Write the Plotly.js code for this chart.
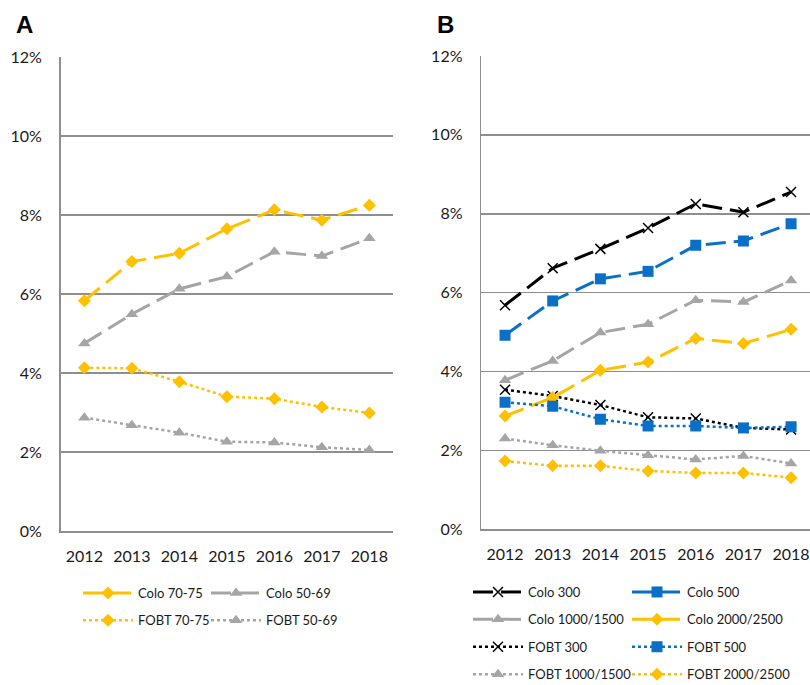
<!DOCTYPE html>
<html>
<head>
<meta charset="utf-8">
<script src="https://cdn.plot.ly/plotly-3.0.1.min.js"></script>
<style>html,body{margin:0;padding:0;background:#fff;}#chart{width:810px;height:685px;}</style>
</head>
<body>
<div id="chart"></div>
<script>
// ---- data ----
const years = ['2012','2013','2014','2015','2016','2017','2018'];

// Panel A
const coloA_70_75 = [5.83, 6.82, 7.03, 7.65, 8.13, 7.87, 8.25];
const coloA_50_69 = [4.75, 5.49, 6.13, 6.44, 7.07, 6.96, 7.41];
const fobtA_70_75 = [4.13, 4.12, 3.78, 3.40, 3.35, 3.14, 2.99];
const fobtA_50_69 = [2.87, 2.68, 2.49, 2.26, 2.24, 2.12, 2.05];

// Panel B
const coloB_300 = [5.68, 6.62, 7.11, 7.64, 8.25, 8.04, 8.55];
const coloB_500 = [4.92, 5.79, 6.35, 6.54, 7.20, 7.31, 7.75];
const coloB_1000 = [3.78, 4.27, 4.99, 5.20, 5.81, 5.76, 6.31];
const coloB_2000 = [2.87, 3.34, 4.03, 4.24, 4.84, 4.71, 5.07];
const fobtB_300 = [3.54, 3.38, 3.15, 2.84, 2.81, 2.57, 2.53];
const fobtB_500 = [3.22, 3.12, 2.79, 2.62, 2.62, 2.57, 2.60];
const fobtB_1000 = [2.30, 2.13, 1.99, 1.88, 1.77, 1.86, 1.67];
const fobtB_2000 = [1.73, 1.61, 1.61, 1.48, 1.43, 1.43, 1.31];

const yTickVals = [0, 2, 4, 6, 8, 10, 12];

// ---- styles ----
const ORANGE = '#FFC000', GRAY = '#A5A5A5', BLACK = '#000000', BLUE = '#0A6FC7';
const DASH = '20px,8px', DOT = '3px,3px';
const W = 810, H = 685;

function tr(name, y, color, dash, symbol, xa, ya, legend, size, lw) {
  const isX = symbol.indexOf('x') === 0;
  return {
    type: 'scatter', mode: 'lines+markers', name: name, x: years, y: y,
    xaxis: xa, yaxis: ya, legend: legend, legendgroup: name,
    line: {color: color, width: lw, dash: dash},
    marker: isX ? {symbol: symbol, size: size, color: color, line: {color: color, width: 1.5}}
                : {symbol: symbol, size: size, color: color, line: {width: 0}}
  };
}

const traces = [
  tr('Colo 70-75', coloA_70_75, ORANGE, DASH, 'diamond', 'x', 'y', 'legend', 10, 3),
  tr('FOBT 70-75', fobtA_70_75, ORANGE, DOT, 'diamond', 'x', 'y', 'legend', 10, 2.5),
  tr('Colo 50-69', coloA_50_69, GRAY, DASH, 'triangle-up', 'x', 'y', 'legend2', 11, 3),
  tr('FOBT 50-69', fobtA_50_69, GRAY, DOT, 'triangle-up', 'x', 'y', 'legend2', 11, 2.5),

  tr('Colo 300', coloB_300, BLACK, DASH, 'x-thin-open', 'x2', 'y2', 'legend3', 10, 3),
  tr('Colo 1000/1500', coloB_1000, GRAY, DASH, 'triangle-up', 'x2', 'y2', 'legend3', 11, 3),
  tr('FOBT 300', fobtB_300, BLACK, DOT, 'x-thin-open', 'x2', 'y2', 'legend3', 10, 2.5),
  tr('FOBT 1000/1500', fobtB_1000, GRAY, DOT, 'triangle-up', 'x2', 'y2', 'legend3', 11, 2.5),

  tr('Colo 500', coloB_500, BLUE, DASH, 'square', 'x2', 'y2', 'legend4', 11, 3),
  tr('Colo 2000/2500', coloB_2000, ORANGE, DASH, 'diamond', 'x2', 'y2', 'legend4', 10, 3),
  tr('FOBT 500', fobtB_500, BLUE, DOT, 'square', 'x2', 'y2', 'legend4', 11, 2.5),
  tr('FOBT 2000/2500', fobtB_2000, ORANGE, DOT, 'diamond', 'x2', 'y2', 'legend4', 10, 2.5)
];

const FONT = 'Lato, "Open Sans", sans-serif';
const GRID = '#8E8E8E';

function xAxis(domain, range, anchor) {
  return {
    domain: domain, anchor: anchor, type: 'category', range: range,
    showline: true, linecolor: GRID, linewidth: 1.5, mirror: false,
    showgrid: false, zeroline: false,
    ticks: 'outside', ticklen: 10, tickcolor: 'rgba(0,0,0,0)',
    tickfont: {family: FONT, size: 16, color: '#1a1a1a'}, fixedrange: true
  };
}
function yAxis(domain, anchor) {
  return {
    domain: domain, anchor: anchor, range: [0, 12], tickvals: yTickVals,
    ticktext: yTickVals.map(v => v + '%'),
    showline: true, linecolor: GRID, linewidth: 1.5,
    showgrid: true, gridcolor: GRID, gridwidth: 1.5, zeroline: false,
    ticks: 'outside', ticklen: 14, tickcolor: 'rgba(0,0,0,0)',
    tickfont: {family: FONT, size: 16, color: '#1a1a1a'}, fixedrange: true
  };
}

function leg(xpx, ypx) {
  return {
    x: xpx / W, y: 1 - ypx / H, xanchor: 'left', yanchor: 'top',
    orientation: 'v', itemwidth: 50, tracegroupgap: 7.5, borderwidth: 0,
    bgcolor: 'rgba(0,0,0,0)', font: {family: FONT, size: 13, color: '#1a1a1a'},
    traceorder: 'grouped', itemclick: false
  };
}

const layout = {
  width: W, height: H,
  margin: {l: 0, r: 0, t: 0, b: 0, autoexpand: false},
  paper_bgcolor: '#fff', plot_bgcolor: '#fff',
  showlegend: true,
  xaxis: xAxis([60.6 / W, 393.1 / W], [-0.5, 6.5], 'y'),
  yaxis: yAxis([1 - 531 / H, 1 - 57 / H], 'x'),
  xaxis2: xAxis([481.2 / W, 1], [-0.5, 6.397], 'y2'),
  yaxis2: yAxis([1 - 529.3 / H, 1 - 56 / H], 'x2'),
  legend: leg(78, 578),
  legend2: leg(206, 578),
  legend3: leg(468, 577),
  legend4: leg(627, 577),
  annotations: [
    {text: '<b>A</b>', xref: 'paper', yref: 'paper', x: 24 / W, y: 1 - 24 / H,
     xanchor: 'center', yanchor: 'middle', showarrow: false,
     font: {family: '"Liberation Sans", Arial, sans-serif', size: 24, color: '#000'}},
    {text: '<b>B</b>', xref: 'paper', yref: 'paper', x: 445 / W, y: 1 - 24 / H,
     xanchor: 'center', yanchor: 'middle', showarrow: false,
     font: {family: '"Liberation Sans", Arial, sans-serif', size: 24, color: '#000'}}
  ]
};

Plotly.newPlot('chart', traces, layout, {staticPlot: true, displayModeBar: false});
</script>
</body>
</html>
